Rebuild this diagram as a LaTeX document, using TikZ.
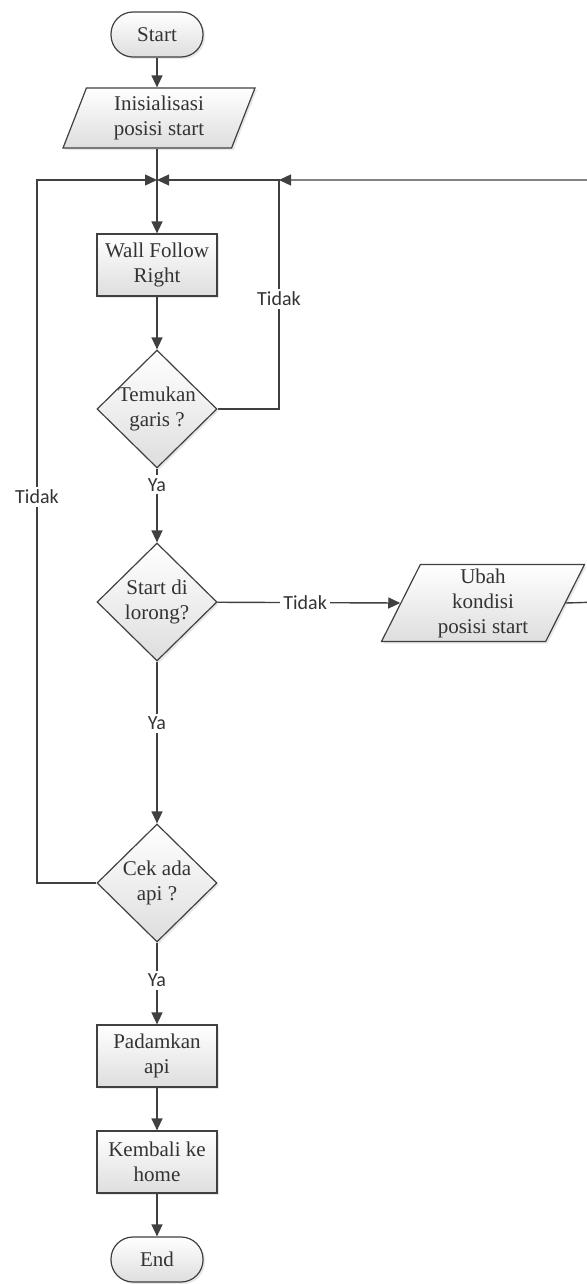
\documentclass[tikz,border=0pt]{standalone}
\usepackage{fontspec}
\setmainfont{Liberation Serif}
\newfontfamily\lblfont{Carlito}
\usepackage{tikz}
\usetikzlibrary{shapes}
\usetikzlibrary{shapes.geometric}
\usetikzlibrary{arrows.meta}
\usetikzlibrary{shadows}

\definecolor{linegray}{HTML}{404040}
\definecolor{textgray}{HTML}{333333}

\tikzset{
	box/.style={draw=linegray, line width=0.6pt, top color=white, bottom color=black!13,
		drop shadow={opacity=0.18, shadow xshift=1pt, shadow yshift=-1pt},
		text=textgray, font=\fontsize{10.5}{12.5}\selectfont, align=center},
	terminal/.style={box, rectangle, rounded corners=11pt, minimum width=46pt, minimum height=22.5pt, inner sep=1pt},
	process/.style={box, rectangle, minimum width=60pt, minimum height=31pt, inner sep=1pt},
	decision/.style={box, diamond, aspect=1, minimum width=60pt, minimum height=59pt, inner sep=-4pt},
	io/.style={box, trapezium, trapezium stretches body, inner sep=1pt},
	arr/.style={draw=linegray, line width=0.7pt, -{Triangle[length=6pt,width=5.5pt]}},
	ln/.style={draw=linegray, line width=0.7pt},
	lbl/.style={fill=white, inner sep=1.5pt, text=textgray, font=\lblfont\fontsize{10}{12}\selectfont}
}

\begin{document}
\begin{tikzpicture}[x=0.5pt, y=-0.5pt]
					\useasboundingbox (0,0) rectangle (587,1284);
					\node[terminal] (1) at (157,34.5) {Start};
					\node[io, trapezium left angle=64, trapezium right angle=116, minimum width=96pt, minimum height=30pt] (2) at (159,118) {Inisialisasi\\posisi start};
					\node[process] (3) at (157,265) {Wall Follow\\Right};
					\node[decision] (4) at (157,409) {Temukan\\garis ?};
					\node[decision] (5) at (157,602) {Start di\\lorong?};
					\node[io, trapezium left angle=62, trapezium right angle=118, minimum width=101.5pt, minimum height=38.5pt] (6) at (483,603) {Ubah\\kondisi\\posisi start};
					\node[decision] (7) at (157,883) {Cek ada\\api ?};
					\node[process] (8) at (157,1056) {Padamkan\\api};
					\node[process] (9) at (157,1162) {Kembali ke\\home};
					\node[terminal] (10) at (157,1259.5) {End};
					\coordinate (j) at (157,180);
					\coordinate (l) at (37,180);
					\coordinate (r) at (279,180);
					\coordinate (p) at (600,180);
					\coordinate (q) at (600,602);
					\draw[arr] (1) -- (1 |- 2.north);
					\draw[arr] (2.south -| 3) -- (3);
					\draw[arr] (3) -- (4);
					\draw[arr] (4) -- node[lbl, pos=0.22] {Ya} (5);
					\draw[arr] (5) -- node[lbl, pos=0.38] {Ya} (7);
					\draw[arr] (7) -- node[lbl, pos=0.46] {Ya} (8);
					\draw[arr] (8) -- (9);
					\draw[arr] (9) -- (10);
					\draw[arr] (5) -- node[lbl, pos=0.48] {Tidak} (6.west);
					\draw[arr] (4.east) -| (r) -- (j);
					\draw[arr] (7.west) -| (l) -- (j);
					\draw[arr] (6.east) -- (q) -- (p) -- (r);
					\node[lbl] (t1) at (279,299) {Tidak};
					\node[lbl] (t2) at (37,497) {Tidak};
				\end{tikzpicture}
\end{document}
